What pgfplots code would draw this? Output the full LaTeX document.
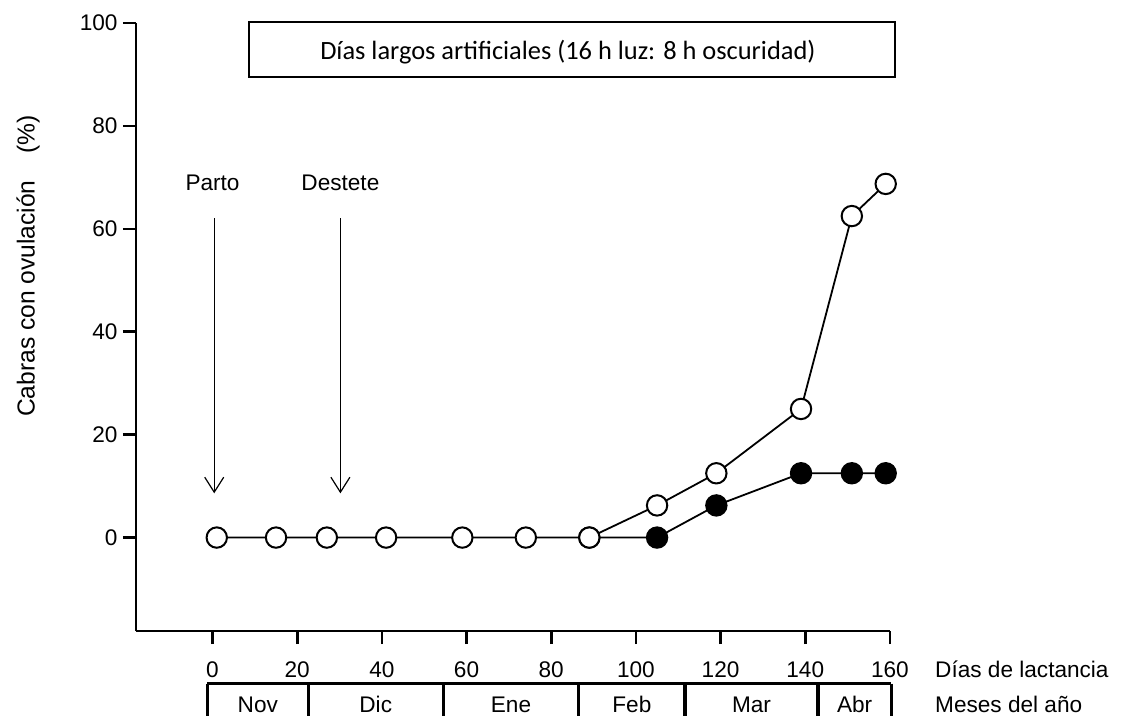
\documentclass[border=0pt]{standalone}
\usepackage{fontspec}
\setmainfont{Liberation Sans}
\newfontfamily\carlito{Carlito}
\usepackage{pgfplots}
\pgfplotsset{compat=1.18}
\usetikzlibrary{arrows.meta}

\newcommand{\lab}{\fontsize{11.3}{13}\selectfont}

\begin{document}
\begin{tikzpicture}
\begin{axis}[
  scale only axis,
  width=377pt, height=304pt,
  xmin=-18.1, xmax=160,
  ymin=-18.2, ymax=100,
  axis lines*=left,
  axis line style={line width=1.3pt},
  tick align=outside,
  major tick length=6.5pt,
  tick style={line width=1.3pt, black},
  xtick={0,20,...,160},
  ytick={0,20,...,100},
  tick label style={font=\lab},
  /pgf/number format/assume math mode=true,
  yticklabel style={inner sep=2.5pt},
  xticklabel style={yshift=-5pt},
  clip=false,
]
% frame of the page
\path (axis cs:-50.2,-34.77) rectangle (axis cs:216.7,104.5);

% title box
\draw[line width=1pt] (axis cs:8.6,89.6) rectangle (axis cs:161.3,100.3);
\node[anchor=base west, inner sep=0pt, font=\carlito\fontsize{13.2}{15}\selectfont]
  at (axis cs:25.35,92.9) {Días largos artificiales (16 h luz: 8 h oscuridad)};

% arrows
\draw[line width=0.6pt, -{Straight Barb[length=7.5pt,width=9.5pt,line width=0.6pt]}]
  (axis cs:0.4,62.1) -- (axis cs:0.4,8.6);
\draw[line width=0.6pt, -{Straight Barb[length=7.5pt,width=9.5pt,line width=0.6pt]}]
  (axis cs:30.2,62.1) -- (axis cs:30.2,8.6);
\node[font=\lab] at (axis cs:0,68.9) {Parto};
\node[font=\lab] at (axis cs:30.2,68.9) {Destete};

% series
\addplot[black, line width=0.9pt, mark=*, mark size=5.1pt,
  mark options={fill=black, line width=1pt}] coordinates {
  (89,0) (105,0) (119,6.25) (139,12.5) (151,12.5) (159,12.5)
};
\addplot[black, line width=0.9pt, mark=*, mark size=5.1pt,
  mark options={fill=white, line width=1pt}] coordinates {
  (1,0) (15,0) (27,0) (41,0) (59,0) (74,0) (89,0)
  (105,6.25) (119,12.5) (139,25) (151,62.5) (159,68.75)
};

% y label
\node[rotate=90, anchor=base, font=\fontsize{12.3}{14}\selectfont] at (axis cs:-42.0,52.8)
  {Cabras con ovulación\hspace{1.1em}(\%)};

% month bar
\draw[line width=1.6pt] (axis cs:-1.2,-28.4) -- (axis cs:160.3,-28.4);
\draw[line width=1.6pt] (axis cs:-1.2,-28.4) -- (axis cs:-1.2,-34.77);
\draw[line width=1.6pt] (axis cs:22.6,-28.4) -- (axis cs:22.6,-34.77);
\draw[line width=1.6pt] (axis cs:54.5,-28.4) -- (axis cs:54.5,-34.77);
\draw[line width=1.6pt] (axis cs:86.5,-28.4) -- (axis cs:86.5,-34.77);
\draw[line width=1.6pt] (axis cs:111.6,-28.4) -- (axis cs:111.6,-34.77);
\draw[line width=1.6pt] (axis cs:143.0,-28.4) -- (axis cs:143.0,-34.77);
\draw[line width=1.6pt] (axis cs:160.3,-28.4) -- (axis cs:160.3,-34.77);
\node[anchor=base, font=\lab, inner sep=0pt] at (axis cs:10.7,-34.0) {Nov};
\node[anchor=base, font=\lab, inner sep=0pt] at (axis cs:38.55,-34.0) {Dic};
\node[anchor=base, font=\lab, inner sep=0pt] at (axis cs:70.5,-34.0) {Ene};
\node[anchor=base, font=\lab, inner sep=0pt] at (axis cs:99.05,-34.0) {Feb};
\node[anchor=base, font=\lab, inner sep=0pt] at (axis cs:127.3,-34.0) {Mar};
\node[anchor=base, font=\lab, inner sep=0pt] at (axis cs:151.65,-34.0) {Abr};

\node[anchor=base west, font=\lab, inner sep=0pt] at (axis cs:170.6,-27.2) {Días de lactancia};
\node[anchor=base west, font=\lab, inner sep=0pt] at (axis cs:170.6,-34.0) {Meses del año};
\end{axis}
\end{tikzpicture}
\end{document}
